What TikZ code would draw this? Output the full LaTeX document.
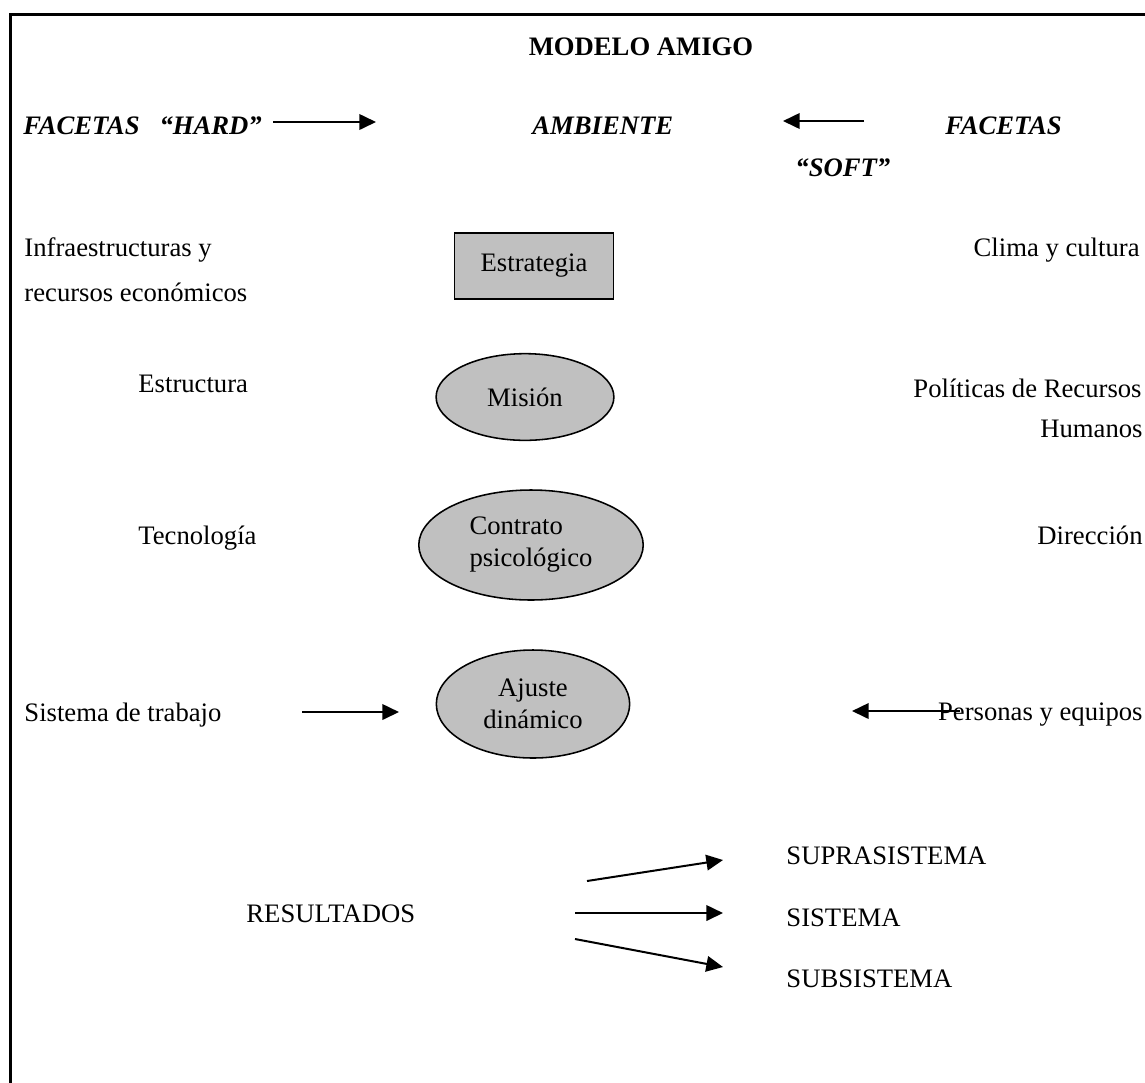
\documentclass[tikz,border=0pt]{standalone}
\usepackage{fontspec}
\setmainfont{Liberation Serif}
\usetikzlibrary{arrows.meta,shapes.geometric}
\definecolor{shade}{HTML}{C0C0C0}
\newcommand\bodyfont{\fontsize{12}{14.4}\selectfont}

\begin{document}
\begin{tikzpicture}[x=0.45pt,y=-0.45pt,font=\bodyfont,
  txt/.style={inner sep=0pt,anchor=base west},
  rtxt/.style={inner sep=0pt,anchor=base east},
  hd/.style={txt,font=\bodyfont\bfseries\itshape},
  stratbox/.style={draw,fill=shade,line width=0.7pt,minimum width=71.5pt,minimum height=29.7pt,inner sep=0pt},
  elli/.style={ellipse,draw,fill=shade,line width=0.7pt,inner sep=0pt},
  arr/.style={line width=0.9pt,-{Triangle[length=7.5pt,width=7pt]}}]
\useasboundingbox (0,0) rectangle (1145,1082);
\clip (0,0) rectangle (1145,1082);
% frame
\draw[line width=1.35pt] (10,14) rectangle (1170,1110);

\node[inner sep=0pt,anchor=base,font=\bodyfont\bfseries] (title) at (641,55) {MODELO AMIGO};

% top row
\node[hd] (hard) at (23,134) {FACETAS\ \ \ “HARD”};
\node[hd] (amb) at (532,134) {AMBIENTE};
\node[hd] (softa) at (945,134) {FACETAS};
\node[hd] (softb) at (795,176) {“SOFT”};

% left and right columns
\node[txt] (infra) at (24,256) {Infraestructuras y};
\node[txt] (recur) at (24,301) {recursos económicos};
\node[rtxt] (clima) at (1140,256) {Clima y cultura};
\node[txt] (estruc) at (138,392) {Estructura};
\node[rtxt] (polit) at (1142,397) {Políticas de Recursos};
\node[rtxt] (human) at (1143,437) {Humanos};
\node[txt] (tecno) at (138,544) {Tecnología};
\node[rtxt] (direc) at (1143,544) {Dirección};
\node[txt] (sistr) at (24,721) {Sistema de trabajo};
\node[rtxt] (perso) at (1143,720) {Personas y equipos};

% centre column
\node[stratbox] (estr) at (534,266) {Estrategia};
\node[elli,minimum width=80pt,minimum height=39pt] (mision) at (525,397) {Misión};
\node[elli,align=left,minimum width=101pt,minimum height=49.5pt] (contr) at (531,545) {Contrato\\psicológico};
\node[elli,align=center,minimum width=87pt,minimum height=48.6pt] (ajuste) at (533,704) {Ajuste\\dinámico};

% results
\node[txt] (resul) at (246,922) {RESULTADOS};
\node[txt] (supra) at (786,864) {SUPRASISTEMA};
\node[txt] (sist) at (786,926) {SISTEMA};
\node[txt] (subs) at (786,987) {SUBSISTEMA};

% arrow ends
\coordinate (h1) at (273,122); \coordinate (h2) at (376,122);
\coordinate (s1) at (864,121); \coordinate (s2) at (783,121);
\coordinate (t1) at (302,712); \coordinate (t2) at (399,712);
\coordinate (p1) at (960,711); \coordinate (p2) at (852,711);
\coordinate (r1) at (587,881); \coordinate (r2) at (723,860);
\coordinate (r3) at (575,913); \coordinate (r4) at (723,913);
\coordinate (r5) at (575,939); \coordinate (r6) at (723,967);
\foreach \a/\b in {h1/h2, s1/s2, t1/t2, p1/p2, r1/r2, r3/r4, r5/r6}
  \draw[arr] (\a) -- (\b);
\end{tikzpicture}
\end{document}
